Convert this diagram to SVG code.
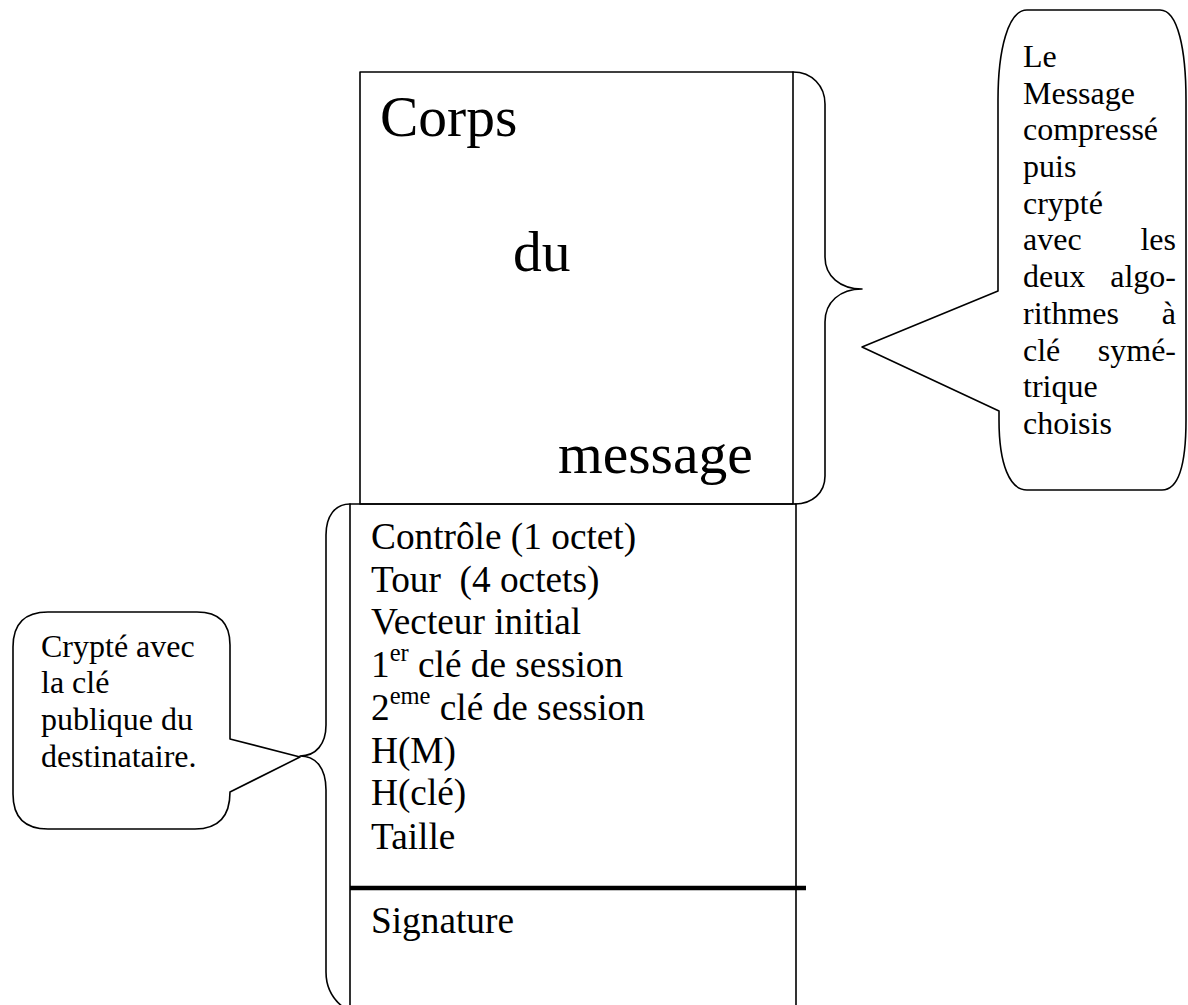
<svg xmlns="http://www.w3.org/2000/svg" width="1188" height="1005" viewBox="0 0 1188 1005">
<style>
.ln{fill:none;stroke:#000;stroke-width:1.6;stroke-linejoin:round;stroke-linecap:round}
.sh{fill:#fff;stroke:#000;stroke-width:1.6;stroke-linejoin:round}
.big{font-family:"Liberation Serif","Times New Roman",serif;font-size:57.5px;fill:#000}
.mid{font-family:"Liberation Serif","Times New Roman",serif;font-size:37.3px;fill:#000}
.sm{font-family:"Liberation Serif","Times New Roman",serif;font-size:32px;fill:#000}
.sup{font-size:24.5px}
</style>
<rect width="1188" height="1005" fill="#fff"/>
<g id="corps-message">
<rect class="sh" x="360" y="72" width="433" height="432"/>
<text class="big" x="380" y="136">Corps</text>
<text class="big" x="513" y="271">du</text>
<text class="big" x="558" y="473">message</text>
</g>
<g id="entete">
<path class="ln" d="M350 1010 L350 504 L796 504 L796 1010"/>
<line x1="350" y1="888" x2="806" y2="888" stroke="#000" stroke-width="4.5"/>
<text class="mid" x="371" y="549">Contrôle (1 octet)</text>
<text class="mid" x="371" y="592" xml:space="preserve">Tour  (4 octets)</text>
<text class="mid" x="371" y="634">Vecteur initial</text>
<text class="mid" x="371" y="677">1<tspan class="sup" dy="-16">er</tspan><tspan dy="16"> clé de session</tspan></text>
<text class="mid" x="371" y="720">2<tspan class="sup" dy="-16">eme</tspan><tspan dy="16"> clé de session</tspan></text>
<text class="mid" x="371" y="763">H(M)</text>
<text class="mid" x="371" y="805">H(clé)</text>
<text class="mid" x="371" y="849">Taille</text>
<text class="mid" x="371" y="933">Signature</text>
</g>
<g id="connectors">
<path class="ln" d="M793 72 C812 72 825 86 825 104 L825 257 C825 276 840 289 862 289 C840 289 825 302 825 322 L825 476 C825 493 812 504 795 504"/>
<path class="ln" d="M350 504 C335 504 326 516 326 535 L326 725 C326 744 316 756 300 756 C316 756 326 768 326 790 L326 972 C326 990 334 1000 343 1007"/>
</g>
<g id="note-message">
<path class="sh" d="M1027 10 L1160 10 C1178 10 1186 50 1186 100 L1186 420 C1186 465 1178 490 1162 490 L1027 490 C1010 490 999 465 999 420 L999 411 L862 347 L998 291 L998 100 C998 50 1008 10 1027 10 Z"/>
<text class="sm" x="1023" y="67">Le</text>
<text class="sm" x="1023" y="104">Message</text>
<text class="sm" x="1023" y="140">compressé</text>
<text class="sm" x="1023" y="177">puis</text>
<text class="sm" x="1023" y="214">crypté</text>
<text class="sm" x="1023" y="250">avec</text><text class="sm" x="1176" y="250" text-anchor="end">les</text>
<text class="sm" x="1023" y="287">deux</text><text class="sm" x="1176" y="287" text-anchor="end">algo-</text>
<text class="sm" x="1023" y="324">rithmes</text><text class="sm" x="1176" y="324" text-anchor="end">à</text>
<text class="sm" x="1023" y="361">clé</text><text class="sm" x="1176" y="361" text-anchor="end">symé-</text>
<text class="sm" x="1023" y="397">trique</text>
<text class="sm" x="1023" y="434">choisis</text>
</g>
<g id="note-cle">
<path class="sh" d="M48 612 L197 612 Q230 612 230 645 L230 739 L300 757 L230 792 Q230 829 195 829 L48 829 Q13 829 13 794 L13 647 Q13 612 48 612 Z"/>
<text class="sm" x="41" y="657">Crypté avec</text>
<text class="sm" x="41" y="693">la clé</text>
<text class="sm" x="41" y="730">publique du</text>
<text class="sm" x="41" y="767">destinataire.</text>
</g>
</svg>
